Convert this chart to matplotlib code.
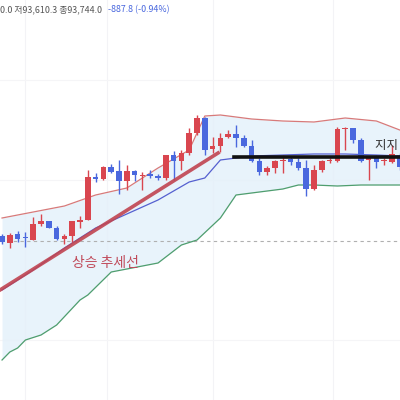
import matplotlib
matplotlib.use("Agg")
import matplotlib.pyplot as plt
import numpy as np

plt.rcParams['font.family'] = ['Noto Sans CJK KR', 'DejaVu Sans']

# candles (values in chart units: higher = higher price)
raw = [
(236,242,234,244),(243,235,233,248),(234,239,231,242),(237,238,232,247),(240,224,217,240),
(224,221,214,226),(221,228,221,228),(228,239,226,240),(239,236,234,244),(236,221,221,242),
(222,220,216,228),(220,177,170,220),(177,179,173,182),(179,167,166,180),(167,172,164,173),
(171,181,160,194),(181,171,165,190),(171,175,170,181),(176,175,172,190),(174,176,170,178),
(176,178,174,180),(178,155,155,180),(155,161,151,180),(161,153,150,170),(153,133,128,155),
(133,118,115,135),(118,150,117,155),(149,146,137,153),(146,138,133,152),(137,134,130,138),
(134,138,125,147),(138,146,135,147),(146,161,140,162),(161,172,158,175),(172,168,166,175),
(168,161,160,173),(161,160,155,173),(159,162,157,165),(162,168,158,170),(168,189,160,196),
(189,170,165,190),(170,161,160,172),(161,160,158,163),(161,129,127,162),(129,128,127,150),
(128,140,128,143),(140,161,138,162),(160,158,157,180),(158,162,155,168),(161,160,158,165),
(162,154,145,163),(155,167,153,170)]
opens = [400-r[0] for r in raw]
closes = [400-r[1] for r in raw]
highs = [400-r[2] for r in raw]
lows = [400-r[3] for r in raw]

band_x = [0, 4, 8, 12, 16, 20, 24, 26, 28, 32, 36, 40, 44, 48, 51]
upper = [182, 188, 194, 205, 212, 232, 250, 284, 285, 281, 279, 278, 282, 279, 270]
middle = [110, 130, 152, 172, 186, 200, 218, 222, 240, 244, 245, 246, 246, 245, 244]
lower_x = [0, 1, 2, 3, 5, 7, 10, 11, 14, 18, 20, 23, 25, 28, 30, 33, 36, 38, 40, 43, 46, 51]
lower = [40, 48, 52, 60, 65, 75, 100, 105, 128, 134, 137, 155, 160, 182, 205, 208, 211, 215, 215, 214, 215, 215]

fig = plt.figure(figsize=(4, 4), dpi=100)
ax = fig.add_axes([0, 0, 1, 1])
ax.set_xlim(-0.26, 51.03)
ax.set_ylim(0, 400)
ax.axis('off')

for gx in [3, 13.5, 27, 42.5]:
    ax.axvline(gx, color='#f3f3f6', lw=0.8, zorder=0)
for gy in [60, 220, 320]:
    ax.axhline(gy, color='#f5f5f7', lw=0.8, zorder=0)

ux = np.array(band_x, float)
lx = np.array(lower_x, float)
allx = np.union1d(ux, lx)
ax.fill_between(allx, np.interp(allx, lx, lower), np.interp(allx, ux, upper),
                color='#e3f0fa', alpha=0.8, zorder=1, lw=0)
ax.plot(ux, upper, color='#d77a7a', lw=0.9, zorder=2)
ax.plot(ux, middle, color='#5560d0', lw=0.9, zorder=2)
ax.plot(lx, lower, color='#4f9e6e', lw=0.9, zorder=2)

ax.axhline(159, color='#b0b0b0', lw=0.8, ls=(0, (3, 3)), zorder=1)

up_c, dn_c = '#d9464f', '#4a68de'
for i, (o, c, h, l) in enumerate(zip(opens, closes, highs, lows)):
    col = up_c if c >= o else dn_c
    ax.vlines(i, l, h, color=col, lw=1, zorder=3)
    bot = min(o, c); ht = max(abs(c - o), 1.2)
    ax.bar(i, ht, bottom=bot, width=0.7, color=col, zorder=3, lw=0)

ax.plot([-0.26, 27.7], [110, 247], color='#c04450', lw=2.6, zorder=4, alpha=0.9)
ax.plot([29.7, 51.03], [243, 243], color='#111111', lw=2.6, zorder=4)

ax.text(9, 137, '상승 추세선', color='#c04a5a', fontsize=10, va='center', zorder=5)
ax.text(47.8, 255, '지지 ', color='#333333', fontsize=9, va='center', zorder=5)

fig.text(0.0, 0.975, '0.0 저93,610.3 종93,744.0', color='#555555', fontsize=6.4, va='center')
fig.text(0.27, 0.975, '-887.8 (-0.94%)', color='#4a68de', fontsize=6.4, va='center')

fig.savefig('out.png', dpi=100)
